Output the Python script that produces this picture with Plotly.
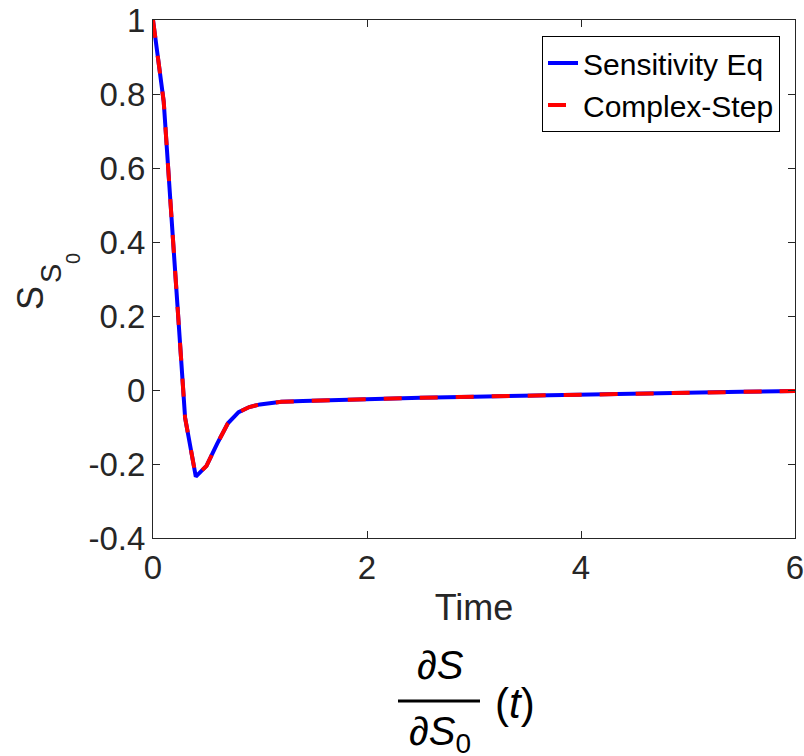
import plotly.graph_objects as go

# ---- data ----
time_points = [0, 0.1, 0.2, 0.3, 0.4, 0.5, 0.6, 0.7, 0.8, 0.9, 1.0, 1.1, 1.2,
               1.4, 1.6, 1.8, 2.0, 2.5, 3.0, 3.5, 4.0, 4.5, 5.0, 5.5, 6.0]
sens_eq = [1.0, 0.78, 0.35, -0.075, -0.234, -0.205, -0.145, -0.09, -0.06, -0.046,
           -0.039, -0.035, -0.032, -0.030, -0.028, -0.026, -0.024, -0.021, -0.018,
           -0.015, -0.012, -0.009, -0.007, -0.005, -0.003]
complex_step = [1.0, 0.78, 0.35, -0.075, -0.234, -0.205, -0.145, -0.09, -0.06, -0.046,
                -0.039, -0.035, -0.032, -0.030, -0.028, -0.026, -0.024, -0.021, -0.018,
                -0.015, -0.012, -0.009, -0.007, -0.005, -0.003]
x_ticks = [0, 2, 4, 6]
x_tick_text = ["0", "2", "4", "6"]
y_ticks = [-0.4, -0.2, 0, 0.2, 0.4, 0.6, 0.8, 1.0]
y_tick_text = ["-0.4", "-0.2", "0", "0.2", "0.4", "0.6", "0.8", "1"]

FONT = "Liberation Sans, Arial, Helvetica, sans-serif"
AX = "#262626"

fig = go.Figure()
fig.add_trace(go.Scatter(x=time_points, y=sens_eq, mode="lines", name="Sensitivity Eq",
                         line=dict(color="#0000ff", width=4)))
fig.add_trace(go.Scatter(x=time_points, y=complex_step, mode="lines", name="Complex-Step",
                         line=dict(color="#ff0000", width=4, dash="18px,18px")))

axis_common = dict(showgrid=False, zeroline=False, showline=True, linecolor=AX, linewidth=1,
                   mirror="ticks", ticks="inside", ticklen=7, tickcolor=AX, tickwidth=1,
                   automargin=False, ticklabeloverflow="allow",
                   tickfont=dict(family=FONT, size=33, color=AX))

fig.update_xaxes(range=[0, 6], tickvals=x_ticks, ticktext=x_tick_text,
                 title=dict(text="Time", font=dict(family=FONT, size=36, color=AX), standoff=10),
                 **axis_common)
fig.update_yaxes(range=[-0.4, 1], tickvals=y_ticks, ticktext=y_tick_text, **axis_common)

def px_x(p):
    return (p - 153) / 642.0

def px_y(p):
    return 1 - (p - 20) / 518.0

ann = []
# y axis label S_{S_0}
ann.append(dict(text="S", x=px_x(30), y=px_y(298), font=dict(size=36)))
ann.append(dict(text="S", x=px_x(51), y=px_y(274), font=dict(size=29)))
ann.append(dict(text="0", x=px_x(73), y=px_y(259), font=dict(size=20)))
for a in ann:
    a.update(xref="paper", yref="paper", showarrow=False, textangle=-90,
             xanchor="center", yanchor="middle")
    a["font"].update(family=FONT, color=AX)

# math caption below
math = [
    dict(text="∂<i>S</i>", x=px_x(440), y=px_y(665), font=dict(size=40)),
    dict(text="∂<i>S</i><sub>0</sub>", x=px_x(440), y=px_y(734), font=dict(size=40)),
    dict(text="(<i>t</i>)", x=px_x(515), y=px_y(703), font=dict(size=42)),
]
for a in math:
    a.update(xref="paper", yref="paper", showarrow=False, xanchor="center", yanchor="middle")
    a["font"].update(family=FONT, color="black")
ann.extend(math)

fig.update_layout(
    width=804, height=756,
    margin=dict(l=153, r=9, t=20, b=218),
    paper_bgcolor="white", plot_bgcolor="white",
    showlegend=True,
    legend=dict(x=px_x(780), y=px_y(36), xanchor="right", yanchor="top",
                bgcolor="white", bordercolor="black", borderwidth=1,
                font=dict(family=FONT, size=30, color="black"),
                tracegroupgap=0, itemwidth=30),
    annotations=ann,
    shapes=[dict(type="line", xref="paper", yref="paper",
                 x0=px_x(398), x1=px_x(480), y0=px_y(701), y1=px_y(701),
                 line=dict(color="black", width=3))],
)

fig.write_html("out.html")
